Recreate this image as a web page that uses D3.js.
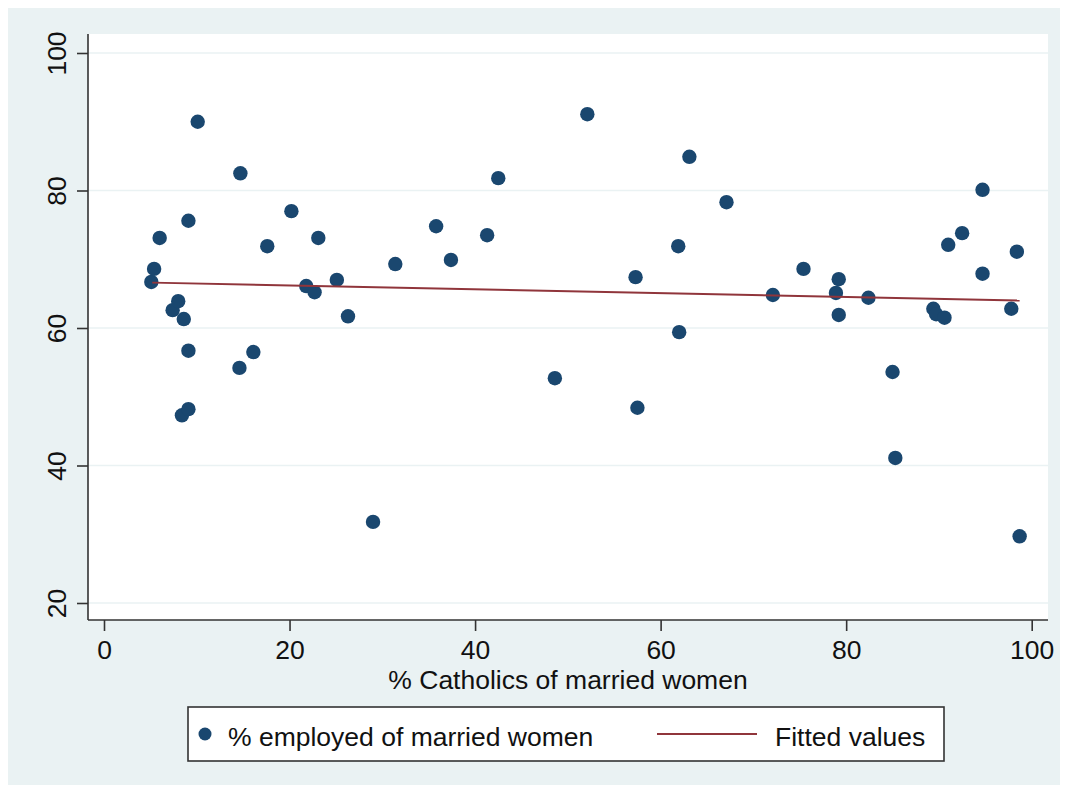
<!DOCTYPE html>
<html>
<head>
<meta charset="utf-8">
<script src="https://cdn.jsdelivr.net/npm/d3@7"></script>
<style>
  html, body { margin: 0; padding: 0; background: #ffffff; }
  svg { display: block; font-family: "Liberation Sans", Arial, Helvetica, sans-serif; }
</style>
</head>
<body>
<svg id="chart" width="1068" height="791"></svg>
<script>
// % Catholics of married women (x) vs % employed of married women (y)
const catholicPct = [
  5.1, 5.4, 6.0, 7.4, 8.0, 8.6, 9.1, 9.1, 8.4, 9.1,
  10.1, 14.7, 14.6, 16.1, 17.6, 20.2, 21.8, 22.7, 23.1, 25.1,
  26.3, 29.0, 31.4, 35.8, 37.4, 41.3, 42.5, 48.6, 52.1, 57.3,
  57.5, 61.9, 62.0, 63.1, 67.1, 72.1, 75.4, 78.9, 79.2, 79.2,
  82.4, 85.0, 85.3, 89.4, 89.7, 90.6, 91.0, 92.5, 94.7, 94.7,
  97.8, 98.4, 98.7
];
const employedPct = [
  66.7, 68.6, 73.1, 62.6, 63.9, 61.3, 56.7, 75.6, 47.3, 48.2,
  90.0, 82.5, 54.2, 56.5, 71.9, 77.0, 66.1, 65.2, 73.1, 67.0,
  61.7, 31.8, 69.3, 74.8, 69.9, 73.5, 81.8, 52.7, 91.1, 67.4,
  48.4, 71.9, 59.4, 84.9, 78.3, 64.8, 68.6, 65.1, 67.1, 61.9,
  64.4, 53.6, 41.1, 62.8, 62.0, 61.5, 72.1, 73.8, 67.9, 80.1,
  62.8, 71.1, 29.7
];

// Fitted values line (endpoints over the observed x range)
const fittedX = [5.2, 98.7];
const fittedY = [66.6, 64.0];

const xTicks = [0, 20, 40, 60, 80, 100];
const yTicks = [20, 40, 60, 80, 100];

const xTitle = "% Catholics of married women";
const legendLabels = ["% employed of married women", "Fitted values"];

const W = 1068, H = 791;
const navy = "#1a476f";
const maroon = "#90353b";
const bg = "#eaf2f3";
const axisColor = "#333333";
const fontSize = 26.5;

const svg = d3.select("#chart");

// Outer graph region
svg.append("rect")
  .attr("x", 8).attr("y", 8)
  .attr("width", W - 16).attr("height", H - 14)
  .attr("fill", bg);

// Plot region
const plot = { left: 88, top: 34, right: 1048, bottom: 620 };
svg.append("rect")
  .attr("x", plot.left).attr("y", plot.top)
  .attr("width", plot.right - plot.left)
  .attr("height", plot.bottom - plot.top)
  .attr("fill", "#ffffff");

const x = d3.scaleLinear().domain([0, 100]).range([104, 1031.7]);
const y = d3.scaleLinear().domain([20, 100]).range([603, 53]);

// Horizontal grid lines
svg.append("g")
  .selectAll("line")
  .data(yTicks)
  .join("line")
  .attr("x1", plot.left).attr("x2", plot.right)
  .attr("y1", d => y(d)).attr("y2", d => y(d))
  .attr("stroke", bg)
  .attr("stroke-width", 1.6);

// Y axis
const yAxis = svg.append("g")
  .attr("transform", `translate(${plot.left},0)`)
  .call(d3.axisLeft(y).tickValues(yTicks).tickSize(11).tickPadding(8).tickSizeOuter(0));
yAxis.select(".domain").remove();
yAxis.append("line")
  .attr("x1", 0).attr("x2", 0)
  .attr("y1", plot.top).attr("y2", plot.bottom)
  .attr("stroke", axisColor).attr("stroke-width", 1.6);
yAxis.selectAll(".tick line").attr("stroke", axisColor).attr("stroke-width", 1.6);
yAxis.selectAll(".tick text")
  .attr("fill", "#111")
  .attr("font-size", fontSize)
  .attr("text-anchor", "middle")
  .attr("dy", 0)
  .attr("x", 0)
  .attr("transform", "translate(-31,0) rotate(-90)")
  .attr("dominant-baseline", "central");

// X axis
const xAxis = svg.append("g")
  .attr("transform", `translate(0,${plot.bottom})`)
  .call(d3.axisBottom(x).tickValues(xTicks).tickSize(11).tickPadding(9).tickSizeOuter(0));
xAxis.select(".domain").remove();
xAxis.append("line")
  .attr("x1", plot.left).attr("x2", plot.right)
  .attr("y1", 0).attr("y2", 0)
  .attr("stroke", axisColor).attr("stroke-width", 1.6);
xAxis.selectAll(".tick line").attr("stroke", axisColor).attr("stroke-width", 1.6);
xAxis.selectAll(".tick text")
  .attr("fill", "#111")
  .attr("font-size", fontSize);

// X axis title
svg.append("text")
  .attr("x", 568)
  .attr("y", 689)
  .attr("text-anchor", "middle")
  .attr("font-size", fontSize)
  .attr("fill", "#111")
  .text(xTitle);

// Scatter points
const pts = catholicPct.map((v, i) => ({ x: v, y: employedPct[i] }));
svg.append("g")
  .selectAll("circle")
  .data(pts)
  .join("circle")
  .attr("cx", d => x(d.x))
  .attr("cy", d => y(d.y))
  .attr("r", 7.2)
  .attr("fill", navy);

// Fitted line
const fitted = fittedX.map((v, i) => [v, fittedY[i]]);
svg.append("path")
  .datum(fitted)
  .attr("d", d3.line().x(d => x(d[0])).y(d => y(d[1])))
  .attr("fill", "none")
  .attr("stroke", maroon)
  .attr("stroke-width", 2);

// Legend
const lg = svg.append("g");
lg.append("rect")
  .attr("x", 188).attr("y", 707)
  .attr("width", 756).attr("height", 54)
  .attr("fill", "#ffffff")
  .attr("stroke", axisColor)
  .attr("stroke-width", 1.6);
lg.append("circle")
  .attr("cx", 205).attr("cy", 734)
  .attr("r", 6.5)
  .attr("fill", navy);
lg.append("text")
  .attr("x", 228).attr("y", 746)
  .attr("font-size", fontSize).attr("fill", "#111")
  .text(legendLabels[0]);
lg.append("line")
  .attr("x1", 657).attr("x2", 757)
  .attr("y1", 734).attr("y2", 734)
  .attr("stroke", maroon).attr("stroke-width", 2);
lg.append("text")
  .attr("x", 775).attr("y", 746)
  .attr("font-size", fontSize).attr("fill", "#111")
  .text(legendLabels[1]);
</script>
</body>
</html>
